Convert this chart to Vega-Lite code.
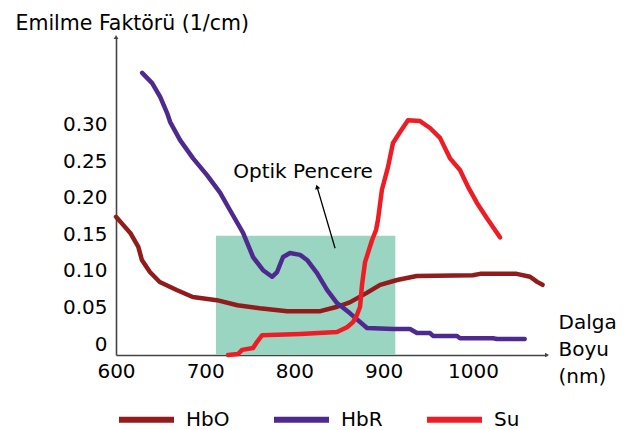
{
  "$schema": "https://vega.github.io/schema/vega-lite/v6.json",
  "width": 431,
  "height": 318,
  "autosize": {"type": "none"},
  "padding": {"left": 116, "top": 37, "right": 77, "bottom": 75},
  "background": "white",
  "config": {
    "view": {"stroke": null},
    "font": "DejaVu Sans",
    "axis": {"grid": false, "ticks": false, "labelColor": "black", "titleColor": "black", "domainColor": "#444444", "domainWidth": 1.6, "labelFontSize": 20, "titleFontSize": 20, "titleFontWeight": "normal", "labelFont": "DejaVu Sans", "titleFont": "DejaVu Sans"}
  },
  "datasets": {
    "curves": [
      {"series": "HbO", "wl": 600, "v": 0.174},
      {"series": "HbO", "wl": 608, "v": 0.163},
      {"series": "HbO", "wl": 616, "v": 0.152},
      {"series": "HbO", "wl": 625, "v": 0.133},
      {"series": "HbO", "wl": 629, "v": 0.115},
      {"series": "HbO", "wl": 638, "v": 0.0985},
      {"series": "HbO", "wl": 649, "v": 0.0848},
      {"series": "HbO", "wl": 668, "v": 0.0739},
      {"series": "HbO", "wl": 686, "v": 0.0643},
      {"series": "HbO", "wl": 713, "v": 0.060},
      {"series": "HbO", "wl": 736, "v": 0.053},
      {"series": "HbO", "wl": 761, "v": 0.049},
      {"series": "HbO", "wl": 792, "v": 0.045},
      {"series": "HbO", "wl": 829, "v": 0.045},
      {"series": "HbO", "wl": 848, "v": 0.051},
      {"series": "HbO", "wl": 862, "v": 0.057},
      {"series": "HbO", "wl": 881, "v": 0.070},
      {"series": "HbO", "wl": 896, "v": 0.081},
      {"series": "HbO", "wl": 915, "v": 0.0876},
      {"series": "HbO", "wl": 937, "v": 0.093},
      {"series": "HbO", "wl": 1000, "v": 0.094},
      {"series": "HbO", "wl": 1008, "v": 0.096},
      {"series": "HbO", "wl": 1049, "v": 0.096},
      {"series": "HbO", "wl": 1064, "v": 0.092},
      {"series": "HbO", "wl": 1072, "v": 0.085},
      {"series": "HbO", "wl": 1078, "v": 0.081},
      {"series": "HbR", "wl": 629.3, "v": 0.371},
      {"series": "HbR", "wl": 640.5, "v": 0.357},
      {"series": "HbR", "wl": 649.5, "v": 0.338},
      {"series": "HbR", "wl": 657.3, "v": 0.316},
      {"series": "HbR", "wl": 660.6, "v": 0.304},
      {"series": "HbR", "wl": 671.8, "v": 0.279},
      {"series": "HbR", "wl": 686.4, "v": 0.254},
      {"series": "HbR", "wl": 702, "v": 0.231},
      {"series": "HbR", "wl": 716.6, "v": 0.207},
      {"series": "HbR", "wl": 727.8, "v": 0.183},
      {"series": "HbR", "wl": 742.4, "v": 0.152},
      {"series": "HbR", "wl": 753.6, "v": 0.119},
      {"series": "HbR", "wl": 764.8, "v": 0.101},
      {"series": "HbR", "wl": 774.9, "v": 0.092},
      {"series": "HbR", "wl": 780.5, "v": 0.0985},
      {"series": "HbR", "wl": 787.2, "v": 0.119},
      {"series": "HbR", "wl": 795, "v": 0.1245},
      {"series": "HbR", "wl": 806.3, "v": 0.122},
      {"series": "HbR", "wl": 814.1, "v": 0.115},
      {"series": "HbR", "wl": 825.3, "v": 0.097},
      {"series": "HbR", "wl": 836.5, "v": 0.074},
      {"series": "HbR", "wl": 847.7, "v": 0.056},
      {"series": "HbR", "wl": 862.3, "v": 0.042},
      {"series": "HbR", "wl": 881.3, "v": 0.022},
      {"series": "HbR", "wl": 910.5, "v": 0.0205},
      {"series": "HbR", "wl": 929.5, "v": 0.0205},
      {"series": "HbR", "wl": 937.3, "v": 0.015},
      {"series": "HbR", "wl": 951.9, "v": 0.015},
      {"series": "HbR", "wl": 955.3, "v": 0.011},
      {"series": "HbR", "wl": 982.2, "v": 0.011},
      {"series": "HbR", "wl": 985.5, "v": 0.008},
      {"series": "HbR", "wl": 1022.5, "v": 0.008},
      {"series": "HbR", "wl": 1027, "v": 0.007},
      {"series": "HbR", "wl": 1058, "v": 0.007},
      {"series": "Su", "wl": 725.6, "v": -0.015},
      {"series": "Su", "wl": 736.8, "v": -0.0137},
      {"series": "Su", "wl": 741.3, "v": -0.008},
      {"series": "Su", "wl": 753.6, "v": -0.0055},
      {"series": "Su", "wl": 758.1, "v": 0.003},
      {"series": "Su", "wl": 763.7, "v": 0.012},
      {"series": "Su", "wl": 806.3, "v": 0.0137},
      {"series": "Su", "wl": 847.7, "v": 0.0164},
      {"series": "Su", "wl": 858.9, "v": 0.023},
      {"series": "Su", "wl": 865.6, "v": 0.030},
      {"series": "Su", "wl": 870.1, "v": 0.040},
      {"series": "Su", "wl": 873.5, "v": 0.051},
      {"series": "Su", "wl": 875.7, "v": 0.081},
      {"series": "Su", "wl": 879.1, "v": 0.112},
      {"series": "Su", "wl": 886.9, "v": 0.142},
      {"series": "Su", "wl": 891.4, "v": 0.156},
      {"series": "Su", "wl": 893.6, "v": 0.170},
      {"series": "Su", "wl": 898, "v": 0.211},
      {"series": "Su", "wl": 904.8, "v": 0.242},
      {"series": "Su", "wl": 910.4, "v": 0.275},
      {"series": "Su", "wl": 918.3, "v": 0.290},
      {"series": "Su", "wl": 927.2, "v": 0.306},
      {"series": "Su", "wl": 940.7, "v": 0.305},
      {"series": "Su", "wl": 951.9, "v": 0.2955},
      {"series": "Su", "wl": 963.1, "v": 0.282},
      {"series": "Su", "wl": 974.3, "v": 0.254},
      {"series": "Su", "wl": 985.5, "v": 0.238},
      {"series": "Su", "wl": 994.5, "v": 0.215},
      {"series": "Su", "wl": 1004.5, "v": 0.193},
      {"series": "Su", "wl": 1015.7, "v": 0.172},
      {"series": "Su", "wl": 1030.3, "v": 0.146}
    ],
    "window": [{"start": 712, "end": 913, "top": 0.148, "bottom": -0.015}],
    "pointer": [{"wl": 845.5, "v": 0.131, "wl2": 825.3, "v2": 0.215}],
    "label": [{"wl": 809.6, "v": 0.235, "text": "Optik Pencere"}],
    "yarrow": [{"wl": 600, "v": 0.42}],
    "xarrow": [{"wl": 1083, "v": -0.015}]
  },
  "layer": [
    {
      "data": {"name": "window"},
      "mark": {"type": "rect", "color": "#9AD5C1"},
      "encoding": {
        "x": {"field": "start", "type": "quantitative", "scale": {"domain": [600, 1083], "nice": false, "zero": false},
          "axis": {"values": [600, 700, 800, 900, 1000], "format": "d", "labelPadding": 6, "labelFlush": false,
            "title": ["Dalga", "Boyu", "(nm)"], "titleAlign": "left", "titleBaseline": "alphabetic", "titleAnchor": "start",
            "titleX": 442, "titleY": -27, "titleLineHeight": 27}},
        "x2": {"field": "end"},
        "y": {"field": "top", "type": "quantitative", "scale": {"domain": [-0.015, 0.42], "nice": false, "zero": false},
          "axis": {"values": [0, 0.05, 0.1, 0.15, 0.2, 0.25, 0.3], "labelPadding": 9, "labelFlush": false,
            "labelExpr": "datum.value == 0 ? '0' : format(datum.value, '.2f')",
            "title": "Emilme Faktörü (1/cm)", "titleAngle": 0, "titleAlign": "left", "titleBaseline": "alphabetic", "titleAnchor": "start",
            "titleX": -101, "titleY": -8, "titleFontSize": 20.5}},
        "y2": {"field": "bottom"}
      }
    },
    {
      "data": {"name": "curves"},
      "mark": {"type": "line", "strokeWidth": 4.5, "strokeJoin": "round", "strokeCap": "round"},
      "encoding": {
        "x": {"field": "wl", "type": "quantitative"},
        "y": {"field": "v", "type": "quantitative"},
        "color": {"field": "series", "type": "nominal",
          "scale": {"domain": ["HbO", "HbR", "Su"], "range": ["#921C1C", "#4E2A8E", "#EE1C25"]},
          "legend": {"title": null, "orient": "none", "legendX": 0, "legendY": 352, "direction": "horizontal",
            "symbolType": "stroke", "symbolSize": 3025, "symbolStrokeWidth": 6, "labelFontSize": 20, "labelColor": "black",
            "labelOffset": 9, "columnPadding": 32, "labelFont": "DejaVu Sans"}},
        "order": {"field": "wl", "type": "quantitative"}
      }
    },
    {
      "data": {"name": "pointer"},
      "mark": {"type": "rule", "color": "black", "strokeWidth": 1.3},
      "encoding": {
        "x": {"field": "wl", "type": "quantitative"},
        "y": {"field": "v", "type": "quantitative"},
        "x2": {"field": "wl2"},
        "y2": {"field": "v2"}
      }
    },
    {
      "data": {"name": "pointer"},
      "mark": {"type": "point", "shape": "triangle-up", "filled": true, "color": "black", "size": 28, "angle": 344, "opacity": 1},
      "encoding": {
        "x": {"field": "wl2", "type": "quantitative"},
        "y": {"field": "v2", "type": "quantitative"}
      }
    },
    {
      "data": {"name": "label"},
      "mark": {"type": "text", "fontSize": 20, "color": "black", "align": "center", "baseline": "middle", "font": "DejaVu Sans"},
      "encoding": {
        "x": {"field": "wl", "type": "quantitative"},
        "y": {"field": "v", "type": "quantitative"},
        "text": {"field": "text"}
      }
    },
    {
      "data": {"name": "yarrow"},
      "mark": {"type": "point", "shape": "triangle-up", "filled": true, "color": "#444444", "size": 22, "opacity": 1},
      "encoding": {
        "x": {"field": "wl", "type": "quantitative"},
        "y": {"field": "v", "type": "quantitative"}
      }
    },
    {
      "data": {"name": "xarrow"},
      "mark": {"type": "point", "shape": "triangle-right", "filled": true, "color": "#444444", "size": 22, "opacity": 1},
      "encoding": {
        "x": {"field": "wl", "type": "quantitative"},
        "y": {"field": "v", "type": "quantitative"}
      }
    }
  ]
}
